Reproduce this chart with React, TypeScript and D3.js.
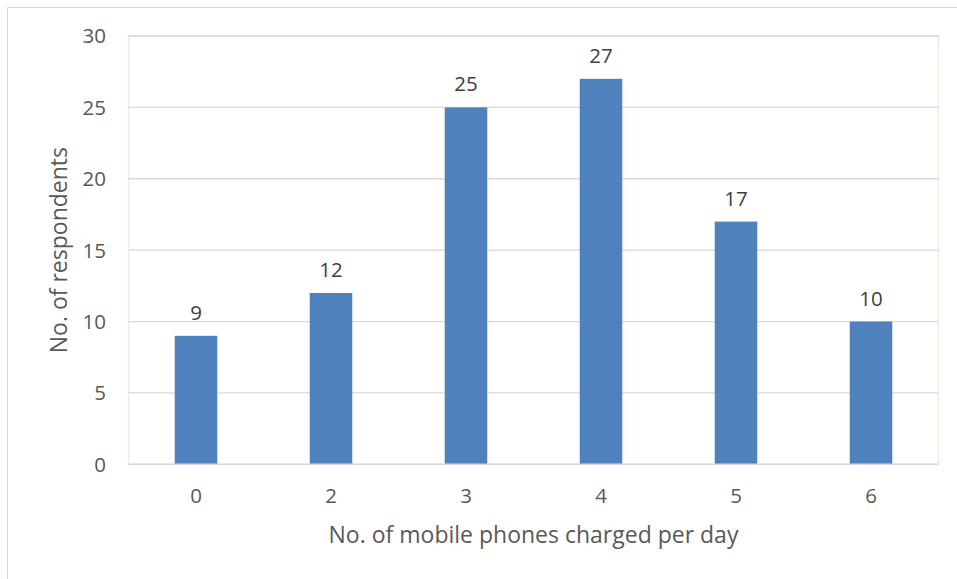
import React from "react";
import * as d3 from "d3";

const categories = ["0", "2", "3", "4", "5", "6"];
const values = [9, 12, 25, 27, 17, 10];
const yTicks = [0, 5, 10, 15, 20, 25, 30];
const xTitle = "No. of mobile phones charged per day";
const yTitle = "No. of respondents";

export default function App() {
  const W = 957, H = 579;
  const left = 128.5, right = 938.5, top = 36, bottom = 464.3;
  const x = d3.scaleBand().domain(categories).range([left, right]).paddingInner(0.685).paddingOuter(0.3425);
  const y = d3.scaleLinear().domain([0, 30]).range([bottom, top]);
  const font = "'Open Sans', sans-serif";
  const textColor = "#595959";
  return (
    <div style={{ position: "absolute", left: 0, top: 0 }}>
      <svg width={W} height={H} style={{ display: "block" }}>
        <rect x={0} y={0} width={W} height={H} fill="#fff" />
        <line x1={7.5} y1={7.5} x2={W} y2={7.5} stroke="#d9d9d9" strokeWidth={1} />
        <line x1={7.5} y1={7.5} x2={7.5} y2={H} stroke="#d9d9d9" strokeWidth={1} />
        <rect x={left} y={top} width={right - left} height={bottom - top} fill="none" stroke="#eeebe0" strokeWidth={1.5} />
        {yTicks.map((t) => (
          <g key={t}>
            {t > 0 && (
              <line x1={left} x2={right} y1={y(t)} y2={y(t)} stroke="#d9d9d9" strokeWidth={1.3} />
            )}
            <text x={106} y={y(t)} dy="0.36em" textAnchor="end" fontFamily={font} fontSize={20.5} fill={textColor}>
              {t}
            </text>
          </g>
        ))}
        {categories.map((c, i) => (
          <g key={c}>
            <rect x={x(c)!} y={y(values[i])} width={x.bandwidth()} height={bottom - y(values[i])} fill="#4f81bd" />
            <text x={x(c)! + x.bandwidth() / 2} y={y(values[i]) - 16} textAnchor="middle" fontFamily={font} fontSize={20.5} fill="#404040">
              {values[i]}
            </text>
            <text x={x(c)! + x.bandwidth() / 2} y={503} textAnchor="middle" fontFamily={font} fontSize={20.5} fill={textColor}>
              {c}
            </text>
          </g>
        ))}
        <line x1={left} x2={right} y1={bottom} y2={bottom} stroke="#d9d9d9" strokeWidth={1.5} />
        <text x={(left + right) / 2} y={543} textAnchor="middle" fontFamily={font} fontSize={23} fill={textColor}>
          {xTitle}
        </text>
        <text transform={`translate(66.5,${(top + bottom) / 2}) rotate(-90)`} textAnchor="middle" fontFamily={font} fontSize={23} fill={textColor}>
          {yTitle}
        </text>
      </svg>
    </div>
  );
}
